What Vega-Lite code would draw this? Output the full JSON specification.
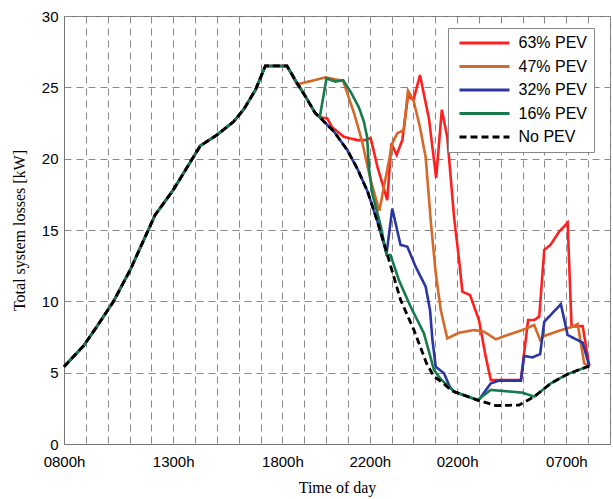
{
  "$schema": "https://vega.github.io/schema/vega-lite/v6.json",
  "width": 546,
  "height": 428,
  "autosize": "none",
  "padding": {"left": 64, "top": 16, "right": 3, "bottom": 55},
  "background": "white",
  "title": {"text": "(a)", "font": "Liberation Serif", "fontSize": 16, "fontWeight": "normal", "offset": 12, "dx": -23, "color": "black"},
  "config": {
    "view": {"stroke": "#777", "strokeWidth": 1},
    "axis": {"domainColor": "#777", "gridColor": "#888", "gridDash": [7, 5], "gridWidth": 1, "labelColor": "black", "labelFont": "Liberation Sans", "labelFontSize": 15, "titleFont": "Liberation Serif", "titleFontSize": 16, "titleFontWeight": "normal", "titleColor": "black", "ticks": false}
  },
  "datasets": {
    "losses": [
      {"s": "No PEV", "h": 0, "v": 5.42}, {"s": "No PEV", "h": 0.89, "v": 6.87}, {"s": "No PEV", "h": 1.5, "v": 8.22}, {"s": "No PEV", "h": 2.26, "v": 9.98}, {"s": "No PEV", "h": 3.03, "v": 12.2}, {"s": "No PEV", "h": 4.17, "v": 16.05}, {"s": "No PEV", "h": 5.0, "v": 17.8}, {"s": "No PEV", "h": 6.24, "v": 20.9}, {"s": "No PEV", "h": 7.0, "v": 21.66}, {"s": "No PEV", "h": 7.77, "v": 22.6}, {"s": "No PEV", "h": 8.23, "v": 23.46}, {"s": "No PEV", "h": 8.76, "v": 24.8}, {"s": "No PEV", "h": 9.22, "v": 26.5}, {"s": "No PEV", "h": 10.21, "v": 26.5}, {"s": "No PEV", "h": 10.67, "v": 25.3}, {"s": "No PEV", "h": 11.06, "v": 24.35}, {"s": "No PEV", "h": 11.5, "v": 23.2}, {"s": "No PEV", "h": 11.71, "v": 22.9},
      {"s": "No PEV", "h": 12.36, "v": 21.9}, {"s": "No PEV", "h": 12.97, "v": 20.6}, {"s": "No PEV", "h": 13.43, "v": 19.3}, {"s": "No PEV", "h": 13.9, "v": 17.7}, {"s": "No PEV", "h": 14.35, "v": 15.6}, {"s": "No PEV", "h": 14.8, "v": 13.3}, {"s": "No PEV", "h": 15.41, "v": 10.1}, {"s": "No PEV", "h": 16.02, "v": 8.0}, {"s": "No PEV", "h": 16.6, "v": 5.65}, {"s": "No PEV", "h": 16.94, "v": 4.72}, {"s": "No PEV", "h": 17.25, "v": 4.4}, {"s": "No PEV", "h": 17.63, "v": 3.9}, {"s": "No PEV", "h": 17.86, "v": 3.67}, {"s": "No PEV", "h": 18.93, "v": 3.08}, {"s": "No PEV", "h": 19.77, "v": 2.69}, {"s": "No PEV", "h": 20.84, "v": 2.73}, {"s": "No PEV", "h": 21.53, "v": 3.32}, {"s": "No PEV", "h": 22.29, "v": 4.25}, {"s": "No PEV", "h": 23.06, "v": 4.9}, {"s": "No PEV", "h": 24.05, "v": 5.47},

      {"s": "16% PEV", "h": 0, "v": 5.42}, {"s": "16% PEV", "h": 0.89, "v": 6.87}, {"s": "16% PEV", "h": 1.5, "v": 8.22}, {"s": "16% PEV", "h": 2.26, "v": 9.98}, {"s": "16% PEV", "h": 3.03, "v": 12.2}, {"s": "16% PEV", "h": 4.17, "v": 16.05}, {"s": "16% PEV", "h": 5.0, "v": 17.8}, {"s": "16% PEV", "h": 6.24, "v": 20.9}, {"s": "16% PEV", "h": 7.0, "v": 21.66}, {"s": "16% PEV", "h": 7.77, "v": 22.6}, {"s": "16% PEV", "h": 8.23, "v": 23.46}, {"s": "16% PEV", "h": 8.76, "v": 24.8}, {"s": "16% PEV", "h": 9.22, "v": 26.5}, {"s": "16% PEV", "h": 10.21, "v": 26.5}, {"s": "16% PEV", "h": 10.67, "v": 25.3}, {"s": "16% PEV", "h": 11.06, "v": 24.35}, {"s": "16% PEV", "h": 11.5, "v": 23.2}, {"s": "16% PEV", "h": 11.71, "v": 22.9},
      {"s": "16% PEV", "h": 12.02, "v": 25.63}, {"s": "16% PEV", "h": 12.43, "v": 25.4}, {"s": "16% PEV", "h": 12.78, "v": 25.5}, {"s": "16% PEV", "h": 13.12, "v": 24.7}, {"s": "16% PEV", "h": 13.5, "v": 23.6}, {"s": "16% PEV", "h": 13.73, "v": 22.6}, {"s": "16% PEV", "h": 13.88, "v": 21.5}, {"s": "16% PEV", "h": 13.96, "v": 19.4}, {"s": "16% PEV", "h": 14.11, "v": 17.6}, {"s": "16% PEV", "h": 14.5, "v": 15.3}, {"s": "16% PEV", "h": 14.77, "v": 13.25}, {"s": "16% PEV", "h": 14.95, "v": 13.25}, {"s": "16% PEV", "h": 15.33, "v": 11.5}, {"s": "16% PEV", "h": 15.87, "v": 9.63}, {"s": "16% PEV", "h": 16.48, "v": 7.76}, {"s": "16% PEV", "h": 16.94, "v": 5.19}, {"s": "16% PEV", "h": 17.25, "v": 4.55}, {"s": "16% PEV", "h": 17.86, "v": 3.67}, {"s": "16% PEV", "h": 18.93, "v": 3.08}, {"s": "16% PEV", "h": 19.54, "v": 3.79}, {"s": "16% PEV", "h": 20.99, "v": 3.6}, {"s": "16% PEV", "h": 21.53, "v": 3.32}, {"s": "16% PEV", "h": 22.29, "v": 4.25}, {"s": "16% PEV", "h": 23.06, "v": 4.9}, {"s": "16% PEV", "h": 24.05, "v": 5.47},

      {"s": "32% PEV", "h": 0, "v": 5.42}, {"s": "32% PEV", "h": 0.89, "v": 6.87}, {"s": "32% PEV", "h": 1.5, "v": 8.22}, {"s": "32% PEV", "h": 2.26, "v": 9.98}, {"s": "32% PEV", "h": 3.03, "v": 12.2}, {"s": "32% PEV", "h": 4.17, "v": 16.05}, {"s": "32% PEV", "h": 5.0, "v": 17.8}, {"s": "32% PEV", "h": 6.24, "v": 20.9}, {"s": "32% PEV", "h": 7.0, "v": 21.66}, {"s": "32% PEV", "h": 7.77, "v": 22.6}, {"s": "32% PEV", "h": 8.23, "v": 23.46}, {"s": "32% PEV", "h": 8.76, "v": 24.8}, {"s": "32% PEV", "h": 9.22, "v": 26.5}, {"s": "32% PEV", "h": 10.21, "v": 26.5}, {"s": "32% PEV", "h": 10.67, "v": 25.3}, {"s": "32% PEV", "h": 11.06, "v": 24.35}, {"s": "32% PEV", "h": 11.5, "v": 23.2}, {"s": "32% PEV", "h": 11.71, "v": 22.9},
      {"s": "32% PEV", "h": 12.36, "v": 21.9}, {"s": "32% PEV", "h": 12.97, "v": 20.6}, {"s": "32% PEV", "h": 13.43, "v": 19.3}, {"s": "32% PEV", "h": 13.9, "v": 17.7}, {"s": "32% PEV", "h": 14.35, "v": 15.6}, {"s": "32% PEV", "h": 14.77, "v": 13.36}, {"s": "32% PEV", "h": 15.03, "v": 16.5}, {"s": "32% PEV", "h": 15.41, "v": 13.95}, {"s": "32% PEV", "h": 15.72, "v": 13.83}, {"s": "32% PEV", "h": 16.1, "v": 12.43}, {"s": "32% PEV", "h": 16.56, "v": 11.03}, {"s": "32% PEV", "h": 16.76, "v": 9.39}, {"s": "32% PEV", "h": 16.87, "v": 7.29}, {"s": "32% PEV", "h": 17.02, "v": 5.42}, {"s": "32% PEV", "h": 17.4, "v": 4.95}, {"s": "32% PEV", "h": 17.67, "v": 4.0}, {"s": "32% PEV", "h": 17.86, "v": 3.67}, {"s": "32% PEV", "h": 18.98, "v": 3.06}, {"s": "32% PEV", "h": 19.54, "v": 4.25}, {"s": "32% PEV", "h": 19.92, "v": 4.44}, {"s": "32% PEV", "h": 20.92, "v": 4.44}, {"s": "32% PEV", "h": 21.07, "v": 6.17}, {"s": "32% PEV", "h": 21.45, "v": 6.07}, {"s": "32% PEV", "h": 21.8, "v": 6.3}, {"s": "32% PEV", "h": 21.99, "v": 8.57}, {"s": "32% PEV", "h": 22.75, "v": 9.8}, {"s": "32% PEV", "h": 23.06, "v": 7.64}, {"s": "32% PEV", "h": 23.75, "v": 7.1}, {"s": "32% PEV", "h": 24.05, "v": 5.47},

      {"s": "47% PEV", "h": 0, "v": 5.42}, {"s": "47% PEV", "h": 0.89, "v": 6.87}, {"s": "47% PEV", "h": 1.5, "v": 8.22}, {"s": "47% PEV", "h": 2.26, "v": 9.98}, {"s": "47% PEV", "h": 3.03, "v": 12.2}, {"s": "47% PEV", "h": 4.17, "v": 16.05}, {"s": "47% PEV", "h": 5.0, "v": 17.8}, {"s": "47% PEV", "h": 6.24, "v": 20.9}, {"s": "47% PEV", "h": 7.0, "v": 21.66}, {"s": "47% PEV", "h": 7.77, "v": 22.6}, {"s": "47% PEV", "h": 8.23, "v": 23.46}, {"s": "47% PEV", "h": 8.76, "v": 24.8}, {"s": "47% PEV", "h": 9.22, "v": 26.5}, {"s": "47% PEV", "h": 10.21, "v": 26.5}, {"s": "47% PEV", "h": 10.67, "v": 25.2},
      {"s": "47% PEV", "h": 11.97, "v": 25.7}, {"s": "47% PEV", "h": 12.78, "v": 25.45}, {"s": "47% PEV", "h": 13.3, "v": 23.1}, {"s": "47% PEV", "h": 13.65, "v": 21.2}, {"s": "47% PEV", "h": 14.04, "v": 18.5}, {"s": "47% PEV", "h": 14.44, "v": 16.35}, {"s": "47% PEV", "h": 15.03, "v": 21.07}, {"s": "47% PEV", "h": 15.26, "v": 21.78}, {"s": "47% PEV", "h": 15.56, "v": 22.0}, {"s": "47% PEV", "h": 15.75, "v": 24.77}, {"s": "47% PEV", "h": 16.0, "v": 24.1}, {"s": "47% PEV", "h": 16.3, "v": 22.2}, {"s": "47% PEV", "h": 16.56, "v": 20.1}, {"s": "47% PEV", "h": 16.8, "v": 15.5}, {"s": "47% PEV", "h": 17.02, "v": 12.0}, {"s": "47% PEV", "h": 17.25, "v": 9.4}, {"s": "47% PEV", "h": 17.55, "v": 7.4}, {"s": "47% PEV", "h": 18.09, "v": 7.8}, {"s": "47% PEV", "h": 18.78, "v": 7.99}, {"s": "47% PEV", "h": 19.24, "v": 7.87}, {"s": "47% PEV", "h": 19.77, "v": 7.34}, {"s": "47% PEV", "h": 20.31, "v": 7.64}, {"s": "47% PEV", "h": 20.99, "v": 7.99}, {"s": "47% PEV", "h": 21.53, "v": 8.34}, {"s": "47% PEV", "h": 21.8, "v": 7.29}, {"s": "47% PEV", "h": 21.99, "v": 7.57}, {"s": "47% PEV", "h": 22.67, "v": 7.94}, {"s": "47% PEV", "h": 23.21, "v": 8.18}, {"s": "47% PEV", "h": 23.52, "v": 8.41}, {"s": "47% PEV", "h": 23.82, "v": 5.65}, {"s": "47% PEV", "h": 24.05, "v": 5.47},

      {"s": "63% PEV", "h": 0, "v": 5.42}, {"s": "63% PEV", "h": 0.89, "v": 6.87}, {"s": "63% PEV", "h": 1.5, "v": 8.22}, {"s": "63% PEV", "h": 2.26, "v": 9.98}, {"s": "63% PEV", "h": 3.03, "v": 12.2}, {"s": "63% PEV", "h": 4.17, "v": 16.05}, {"s": "63% PEV", "h": 5.0, "v": 17.8}, {"s": "63% PEV", "h": 6.24, "v": 20.9}, {"s": "63% PEV", "h": 7.0, "v": 21.66}, {"s": "63% PEV", "h": 7.77, "v": 22.6}, {"s": "63% PEV", "h": 8.23, "v": 23.46}, {"s": "63% PEV", "h": 8.76, "v": 24.8}, {"s": "63% PEV", "h": 9.22, "v": 26.5}, {"s": "63% PEV", "h": 10.21, "v": 26.5}, {"s": "63% PEV", "h": 10.67, "v": 25.3}, {"s": "63% PEV", "h": 11.06, "v": 24.35}, {"s": "63% PEV", "h": 11.5, "v": 23.2}, {"s": "63% PEV", "h": 11.71, "v": 22.9},
      {"s": "63% PEV", "h": 12.05, "v": 22.83}, {"s": "63% PEV", "h": 12.28, "v": 22.2}, {"s": "63% PEV", "h": 12.81, "v": 21.54}, {"s": "63% PEV", "h": 13.43, "v": 21.3}, {"s": "63% PEV", "h": 13.81, "v": 21.3}, {"s": "63% PEV", "h": 14.04, "v": 21.45}, {"s": "63% PEV", "h": 14.35, "v": 19.44}, {"s": "63% PEV", "h": 14.8, "v": 17.1}, {"s": "63% PEV", "h": 14.99, "v": 21.07}, {"s": "63% PEV", "h": 15.23, "v": 20.26}, {"s": "63% PEV", "h": 15.49, "v": 21.3}, {"s": "63% PEV", "h": 15.75, "v": 24.4}, {"s": "63% PEV", "h": 16.0, "v": 24.1}, {"s": "63% PEV", "h": 16.3, "v": 25.86}, {"s": "63% PEV", "h": 16.71, "v": 22.8}, {"s": "63% PEV", "h": 17.04, "v": 18.65}, {"s": "63% PEV", "h": 17.3, "v": 23.43}, {"s": "63% PEV", "h": 17.55, "v": 21.5}, {"s": "63% PEV", "h": 17.86, "v": 15.9}, {"s": "63% PEV", "h": 18.09, "v": 12.9}, {"s": "63% PEV", "h": 18.24, "v": 10.68}, {"s": "63% PEV", "h": 18.59, "v": 10.44}, {"s": "63% PEV", "h": 19.0, "v": 8.69}, {"s": "63% PEV", "h": 19.31, "v": 6.12}, {"s": "63% PEV", "h": 19.54, "v": 4.49}, {"s": "63% PEV", "h": 20.92, "v": 4.49}, {"s": "63% PEV", "h": 21.25, "v": 8.69}, {"s": "63% PEV", "h": 21.53, "v": 8.69}, {"s": "63% PEV", "h": 21.76, "v": 8.93}, {"s": "63% PEV", "h": 21.99, "v": 13.6}, {"s": "63% PEV", "h": 22.27, "v": 13.95}, {"s": "63% PEV", "h": 22.67, "v": 14.88}, {"s": "63% PEV", "h": 23.06, "v": 15.51}, {"s": "63% PEV", "h": 23.24, "v": 8.22}, {"s": "63% PEV", "h": 23.75, "v": 8.27}, {"s": "63% PEV", "h": 24.05, "v": 5.47}
    ]
  },
  "data": {"name": "losses"},
  "encoding": {
    "x": {"field": "h", "type": "quantitative", "title": "Time of day", "scale": {"domain": [0, 25], "nice": false},
      "axis": {"values": [0,1,2,3,4,5,6,7,8,9,10,11,12,13,14,15,16,17,18,19,20,21,22,23,24,25], "labelExpr": "datum.value==0?'0800h':datum.value==5?'1300h':datum.value==10?'1800h':datum.value==14?'2200h':datum.value==18?'0200h':datum.value==23?'0700h':''", "labelPadding": 10, "titlePadding": 10, "labelFlush": false, "labelOverlap": false}},
    "y": {"field": "v", "type": "quantitative", "title": "Total system losses [kW]", "scale": {"domain": [0, 30], "nice": false},
      "axis": {"values": [0,5,10,15,20,25,30], "labelPadding": 6, "titlePadding": 14}},
    "color": {"field": "s", "type": "nominal", "title": null,
      "scale": {"domain": ["63% PEV", "47% PEV", "32% PEV", "16% PEV", "No PEV"], "range": ["#ff1f1f", "#d4692a", "#2a36a6", "#167a4c", "#000000"]},
      "legend": {"orient": "none", "legendX": 384, "legendY": 12, "fillColor": "white", "strokeColor": "#888", "padding": 6.5, "clipHeight": 17, "symbolType": "stroke", "symbolSize": 2500, "symbolStrokeWidth": 3, "symbolOffset": 3.5, "labelFont": "Liberation Sans", "labelFontSize": 16, "labelColor": "black", "labelOffset": 7.5, "rowPadding": 6.5, "labelLimit": 200}},
    "strokeDash": {"field": "s", "type": "nominal", "title": null,
      "scale": {"domain": ["63% PEV", "47% PEV", "32% PEV", "16% PEV", "No PEV"], "range": [[1, 0], [1, 0], [1, 0], [1, 0], [7, 4]]}}
  },
  "layer": [
    {"transform": [{"filter": "datum.s=='63% PEV'"}], "mark": {"type": "line", "strokeWidth": 2.6}},
    {"transform": [{"filter": "datum.s=='47% PEV'"}], "mark": {"type": "line", "strokeWidth": 2.6}},
    {"transform": [{"filter": "datum.s=='32% PEV'"}], "mark": {"type": "line", "strokeWidth": 2.6}},
    {"transform": [{"filter": "datum.s=='16% PEV'"}], "mark": {"type": "line", "strokeWidth": 2.6}},
    {"transform": [{"filter": "datum.s=='No PEV'"}], "mark": {"type": "line", "strokeWidth": 2.8}}
  ]
}
